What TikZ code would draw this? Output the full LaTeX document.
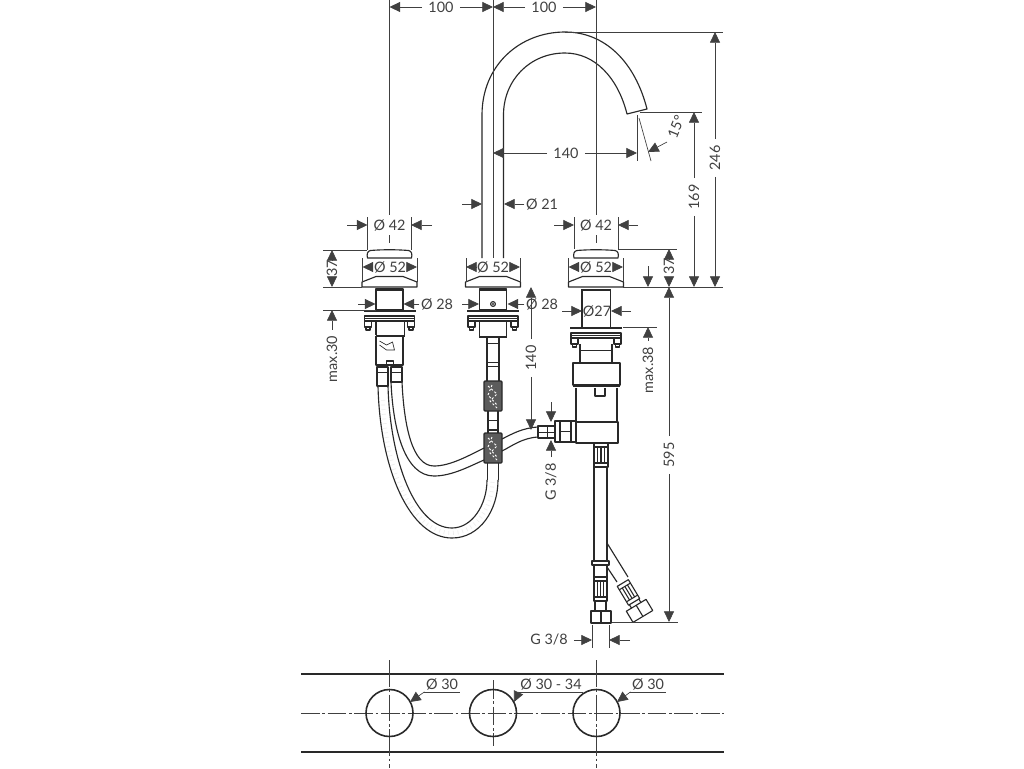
\documentclass[tikz,border=0pt]{standalone}
\usepackage{fontspec}
\setmainfont{Lato}
\usetikzlibrary{arrows.meta}
\definecolor{ink}{gray}{0.16}
\definecolor{dimc}{gray}{0.25}
\tikzset{
  x=0.75pt,y=-0.75pt,
  part/.style={draw=ink,line width=0.85pt,line join=round},
  partw/.style={part,fill=white},
  heavy/.style={draw=ink,line width=1.4pt},
  fine/.style={draw=ink,line width=0.5pt},
  dimline/.style={draw=dimc,line width=0.5pt},
  arr/.style={dimline,-{Triangle[length=8pt,width=7.5pt]}},
  lbl/.style={font=\fontsize{10.8pt}{12pt}\selectfont,text=dimc,inner xsep=4.5pt,inner ysep=1pt},
  centre/.style={draw=dimc,line width=0.5pt,dash pattern=on 14pt off 2pt on 2pt off 2pt},
  filt/.style={draw=ink,line width=1pt,fill=gray!72!black,rounded corners=0.8pt},
}
\newcommand{\lead}[2]{\path (#2) coordinate (leadtip); \draw[arr] (#1) -- (leadtip);}
\newcommand{\tailtip}[2]{\path (#1) coordinate (leadtail); \path (#2) coordinate (leadtip); \draw[arr] (leadtail) -- (leadtip);}
% origin of these is the mount axis
\newcommand{\mountknob}{%
  \draw[part] (-22,258) .. controls (-23,254) and (-22,251) .. (-19,250.5) .. controls (-8,249.5) and (8,249.5) .. (19,250.5) .. controls (22,251) and (23,254) .. (22,258) -- cycle;
}
\newcommand{\mountcap}{%
  \draw[partw] (-27.5,287) -- (-27.5,282) -- (-13.5,276.5) -- (13.5,276.5) -- (27.5,282) -- (27.5,287) -- cycle;
}
\newcommand{\mountflange}[1]{% #1 = y of the flange top
  \draw[heavy] (-26,#1+1) -- (26,#1+1);
  \draw[part] (-25,#1+6) -- (25,#1+6) -- (25,#1+11) -- (-25,#1+11) -- cycle;
  \draw[fine] (-25,#1+8.5) -- (25,#1+8.5);
  \draw[part] (-25,#1+11) -- (-25,#1+17) -- (-18,#1+17) -- (-18,#1+11);
  \draw[part] (25,#1+11) -- (25,#1+17) -- (18,#1+17) -- (18,#1+11);
  \draw[part] (-23.5,#1+17) -- (-23.5,#1+20) -- (-19.5,#1+20) -- (-19.5,#1+17);
  \draw[part] (23.5,#1+17) -- (23.5,#1+20) -- (19.5,#1+20) -- (19.5,#1+17);
}
\newcommand{\filterbox}[2]{% #1 top y, #2 bottom y, centred on x=493
  \draw[filt] (484,#1) rectangle (502,#2);
  \draw[white,line width=0.7pt,dash pattern=on 1.6pt off 1.6pt] (488,#1+5) -- (497,#1+13) -- (490,#1+20) -- (497,#2-3);
  \draw[white,line width=0.7pt,dash pattern=on 1.6pt off 1.6pt] (492,#1+4) -- (488,#1+14) -- (497,#1+24);
}
\newcommand{\hatchfit}[3]{% #1 left x, #2 right x, top y; height 24
  \draw[part] (#1,#3) rectangle (#2,#3+24);
  \draw[fine,line width=0.8pt] (#1,#3+4) -- (#2,#3+4) (#1,#3+20) -- (#2,#3+20);
  \foreach \k in {0.25,0.5,0.75}
    \draw[fine,line width=0.8pt] ({#1+\k*(#2-#1)},#3+4) -- ({#1+\k*(#2-#1)},#3+20);
}
\begin{document}
\begin{tikzpicture}
\useasboundingbox (0,0) rectangle (1024,768);
\fill[white] (0,0) rectangle (1024,768);

% ---------- spout ----------
\draw[part] (482,258) -- (482,115) .. controls (482,65) and (520,32) .. (565,32) .. controls (605,32) and (635,62) .. (647,109) -- (627,114) .. controls (618,78) and (595,53) .. (565,53) .. controls (530,53) and (503.5,80) .. (503.5,115) -- (503.5,258);

% ---------- left mount ----------
\begin{scope}[shift={(389.5,0)}]
  \mountknob\mountcap
  \draw[part] (-13.5,289) rectangle (13.5,310);
  \draw[heavy] (-13.5,290) -- (13.5,290);
  \mountflange{310}
  \draw[part] (-13.5,322) -- (-13.5,335) (15,322) -- (15,335);
  \draw[heavy] (-14,336) -- (15,336);
  \draw[part] (-13.5,336) -- (-13.5,365) -- (13.5,365) -- (13.5,336);
  \draw[fine] (-10,341) -- (-3,345) -- (3,342) -- (5,350) -- (-3,350) -- (-10,345);
  \draw[part] (-3,365) -- (-3,361) -- (4,361) -- (4,365);
\end{scope}
\draw[partw] (377,367) rectangle (388,386);
\draw[partw] (391,367) rectangle (402,382);
\draw[fine] (377,372) -- (388,372) (391,372) -- (402,372);

% ---------- middle mount ----------
\begin{scope}[shift={(493,0)}]
  \mountcap
  \draw[part] (-13.5,289) rectangle (13.5,310);
  \draw[heavy] (-13.5,290) -- (13.5,290);
  \draw[part] (0,304) circle (2.4);
  \fill[ink] (0,304) circle (1.2);
  \mountflange{310}
  \draw[part] (-13.5,322) -- (-13.5,336) (13.5,322) -- (13.5,336);
  \draw[heavy] (-14,337) -- (14,337);
  \draw[part] (-6,338) -- (-6,381) (6,338) -- (6,381);
  \draw[fine] (-6,343) -- (6,343) (-6,362) -- (6,362) (-6,366) -- (6,366);
  \draw[part] (-5,411) -- (-5,433) (5,411) -- (5,433);
  \draw[fine] (-5,420) -- (5,420);
  \draw[heavy] (-5,430) -- (5,430);
  \draw[part] (-5.5,463) -- (-5.5,480) (5.5,463) -- (5.5,480);
\end{scope}

% ---------- hoses ----------
\draw[gray!14,line width=3pt,dash pattern=on 0.5pt off 3pt] (383,400) .. controls (385,470) and (412,533) .. (452,533) .. controls (476,533) and (492,507) .. (492.5,482);
\draw[part] (378,386) .. controls (380,470) and (410,538) .. (452,538) .. controls (480,538) and (498,510) .. (498,480);
\draw[part] (388,386) .. controls (390,460) and (415,528) .. (452,528) .. controls (472,528) and (487,505) .. (487,480);
\draw[part] (391,382) .. controls (393,430) and (405,476) .. (434,476) .. controls (452,476) and (470,466) .. (484,460);
\draw[part] (402,382) .. controls (404,425) and (412,466) .. (434,466) .. controls (450,466) and (468,456) .. (484,448);
\draw[part] (502,439) .. controls (512,434) and (522,428) .. (538,427);
\draw[part] (502,451) .. controls (512,446) and (522,438) .. (538,437);
\filterbox{381}{411}
\filterbox{433}{463}

% ---------- right mount ----------
\begin{scope}[shift={(596,0)}]
  \mountknob\mountcap
  \draw[part] (-14,289) -- (-14,327) (14.5,289) -- (14.5,327);
  \draw[heavy] (-14,290) -- (14.5,290);
  \mountflange{327}
  \draw[part] (-16,344) -- (-16,363) (16,344) -- (16,363);
  \draw[fine] (-16,350) -- (16,350);
  \draw[part,line width=1.2pt] (-23,363) rectangle (24,385);
  \draw[heavy] (-23,386.5) -- (24,386.5);
  \draw[part] (-20,388) -- (-20,422) (21,388) -- (21,422);
  \draw[part] (-1,388) -- (-1,396) -- (9,396) -- (9,388);
  \draw[part] (-20,422) rectangle (22,443);
\end{scope}

% side inlet coupling
\draw[part] (538,426) rectangle (555,438);
\draw[fine] (538,432) -- (555,432);
\draw[fine] (547,426) -- (547,438);
\draw[part] (555,421) rectangle (576,442);
\draw[part] (560,421) -- (560,442) (571,421) -- (571,442);
\draw[fine] (560,431) -- (571,431);

% lower pipe
\hatchfit{594}{608}{443}
\draw[part] (594,467) -- (594,561) (607,467) -- (607,561);
\draw[partw] (592,561) rectangle (609,565);
\draw[part] (594,565) -- (594,577) (607,565) -- (607,577);
\hatchfit{594}{607}{577}
\draw[part] (595,601) -- (595,611) (606,601) -- (606,611);
\draw[partw] (591,611) rectangle (611,623);
\draw[part] (601,611) -- (601,623);
% branch hose
\draw[part] (607,543) -- (628,577);
\draw[part] (607,567) -- (617,582);
\begin{scope}[shift={(630,595)},rotate=31]
  \draw[partw] (-6.5,-14) rectangle (6.5,8);
  \draw[fine,line width=0.8pt] (-6.5,-10) -- (6.5,-10) (-6.5,4) -- (6.5,4);
  \foreach \q in {-3,0,3} \draw[fine,line width=0.8pt] (\q,-10) -- (\q,4);
  \draw[partw] (-11.5,12) rectangle (11.5,25);
  \draw[part] (-5.5,8) -- (-5.5,12) (5.5,8) -- (5.5,12);
  \draw[part] (0,12) -- (0,25);
\end{scope}

% ---------- extension and centre lines ----------
\draw[dimline] (389.5,0) -- (389.5,215) (389.5,235) -- (389.5,243);
\draw[dimline] (493,0) -- (493,258);
\draw[dimline] (596,0) -- (596,215) (596,235) -- (596,243);
\draw[dimline] (565,32) -- (723,32);
\draw[dimline] (640,112) -- (702,112);
\draw[dimline] (637,115) -- (637,161);
\draw[dimline] (639,118) -- (651,161);
\draw[dimline] (323,250) -- (367,250) (323,287) -- (362,287);
\draw[dimline] (323,310) -- (376,310);
\draw[dimline] (618,249) -- (677,249);
\draw[dimline] (623,287) -- (723,287);
\draw[dimline] (623,327) -- (657,327);
\draw[dimline] (612,622) -- (678,622);
\draw[dimline] (367.5,217) -- (367.5,250) (411,217) -- (411,250);
\draw[dimline] (574,217) -- (574,249) (618,217) -- (618,249);
\draw[dimline] (362.5,258) -- (362.5,282) (417,258) -- (417,282);
\draw[dimline] (466,258) -- (466,282) (520,258) -- (520,282);
\draw[dimline] (568.5,258) -- (568.5,282) (623,258) -- (623,282);
\draw[dimline] (592,625) -- (592,648) (609,625) -- (609,648);

% ---------- dimensions ----------
\node[lbl] (a100) at (441,7) {100};
\lead{a100}{389.5,7}\lead{a100}{493,7}
\node[lbl] (b100) at (544,7) {100};
\lead{b100}{493,7}\lead{b100}{596,7}
\node[lbl] (h140) at (566,153) {140};
\lead{h140}{493,153}\lead{h140}{637,153}
\node[lbl,rotate=90] (v246) at (715,158) {246};
\lead{v246}{715,32}\lead{v246}{715,287}
\node[lbl,rotate=90] (v169) at (694,197) {169};
\lead{v169}{694,112}\lead{v169}{694,287}
\node[lbl,rotate=68,inner xsep=1pt] (a15) at (676,127) {15°};
\tailtip{667,142}{648,152}
\node[lbl,inner xsep=1pt] (d21) at (542,204) {Ø 21};
\lead{d21}{504,204}\tailtip{462,204}{482,204}

\node[lbl,inner xsep=1pt] (l42) at (389.5,225) {Ø 42};
\tailtip{347,225}{367.5,225}\tailtip{432,225}{411,225}
\node[lbl,inner xsep=1pt] (r42) at (596,225) {Ø 42};
\tailtip{554,225}{574,225}\tailtip{638,225}{618,225}
\node[lbl,inner xsep=0pt] (l52) at (390,267) {Ø 52};
\tailtip{373,267}{362.5,267}\tailtip{407,267}{417,267}
\node[lbl,inner xsep=0pt] (m52) at (493,267) {Ø 52};
\tailtip{476,267}{466,267}\tailtip{510,267}{520,267}
\node[lbl,inner xsep=0pt] (r52) at (596,267) {Ø 52};
\tailtip{579,267}{568.5,267}\tailtip{613,267}{623,267}

\node[lbl,rotate=90,inner xsep=0pt] (l37) at (332,268) {37};
\tailtip{332,260}{332,250}\tailtip{332,277}{332,287}
\node[lbl,rotate=90,inner xsep=0pt] (r37) at (669,266) {37};
\tailtip{669,259}{669,249}\tailtip{669,277}{669,287}
\tailtip{648,266}{648,287}

\node[lbl,inner xsep=1pt] (l28) at (437,304) {Ø 28};
\tailtip{358,304}{375.5,304}\lead{l28}{403.5,304}
\node[lbl,inner xsep=1pt] (m28) at (542,304) {Ø 28};
\tailtip{462,304}{479,304}\lead{m28}{507.5,304}
\node[lbl,inner xsep=0pt] (r27) at (597,311) {Ø27};
\tailtip{562,311}{582,311}\tailtip{631,311}{611,311}

\node[lbl,rotate=90] (m30) at (332,359) {max.30};
\lead{m30}{332,310}
\node[lbl,rotate=90] (m38) at (648,370) {max.38};
\lead{m38}{648,327}

\node[lbl,rotate=90] (v140) at (531,358) {140};
\lead{v140}{531,287}\lead{v140}{531,430}
\node[lbl,rotate=90] (v595) at (669,455) {595};
\lead{v595}{669,287}\lead{v595}{669,622}

\node[lbl,rotate=90] (g38a) at (551,482) {G 3/8};
\lead{g38a}{551,440}\tailtip{551,402}{551,422}
\node[lbl] (g38b) at (549,640) {G 3/8};
\lead{g38b}{592,640}\tailtip{630,640}{609,640}

% ---------- mounting plate ----------
\draw[draw=ink,line width=1.9pt] (301,674) -- (724,674) (301,752) -- (724,752);
\draw[centre] (301,713) -- (724,713);
\draw[draw=dimc,line width=0.5pt,dash pattern=on 20pt off 2pt on 2pt off 2pt] (389.5,660) -- (389.5,768);
\draw[draw=dimc,line width=0.5pt,dash pattern=on 20pt off 2pt on 2pt off 2pt] (596.5,660) -- (596.5,768);
\draw[draw=dimc,line width=0.5pt,dash pattern=on 14pt off 2pt on 2pt off 2pt] (493,680) -- (493,746);
\foreach \cx/\nm in {389.5/ca,493/cb,596.5/cc}
  \draw[part,line width=1.2pt] (\cx,713) circle (23.5);
\node[lbl,inner sep=1pt] (p1) at (442,684.5) {Ø 30};
\node[lbl,inner sep=1pt] (p2) at (551,684.5) {Ø 30 - 34};
\node[lbl,inner sep=1pt] (p3) at (648,684.5) {Ø 30};
\draw[dimline] (p1.south east) -- (p1.south west);
\draw[dimline] (p2.south east) -- (p2.south west);
\draw[dimline] (p3.south east) -- (p3.south west);
\draw[arr] (p1.south west) -- (410,702);
\draw[arr] (p2.south west) -- (514,702);
\draw[arr] (p3.south west) -- (617,702);
\end{tikzpicture}
\end{document}
